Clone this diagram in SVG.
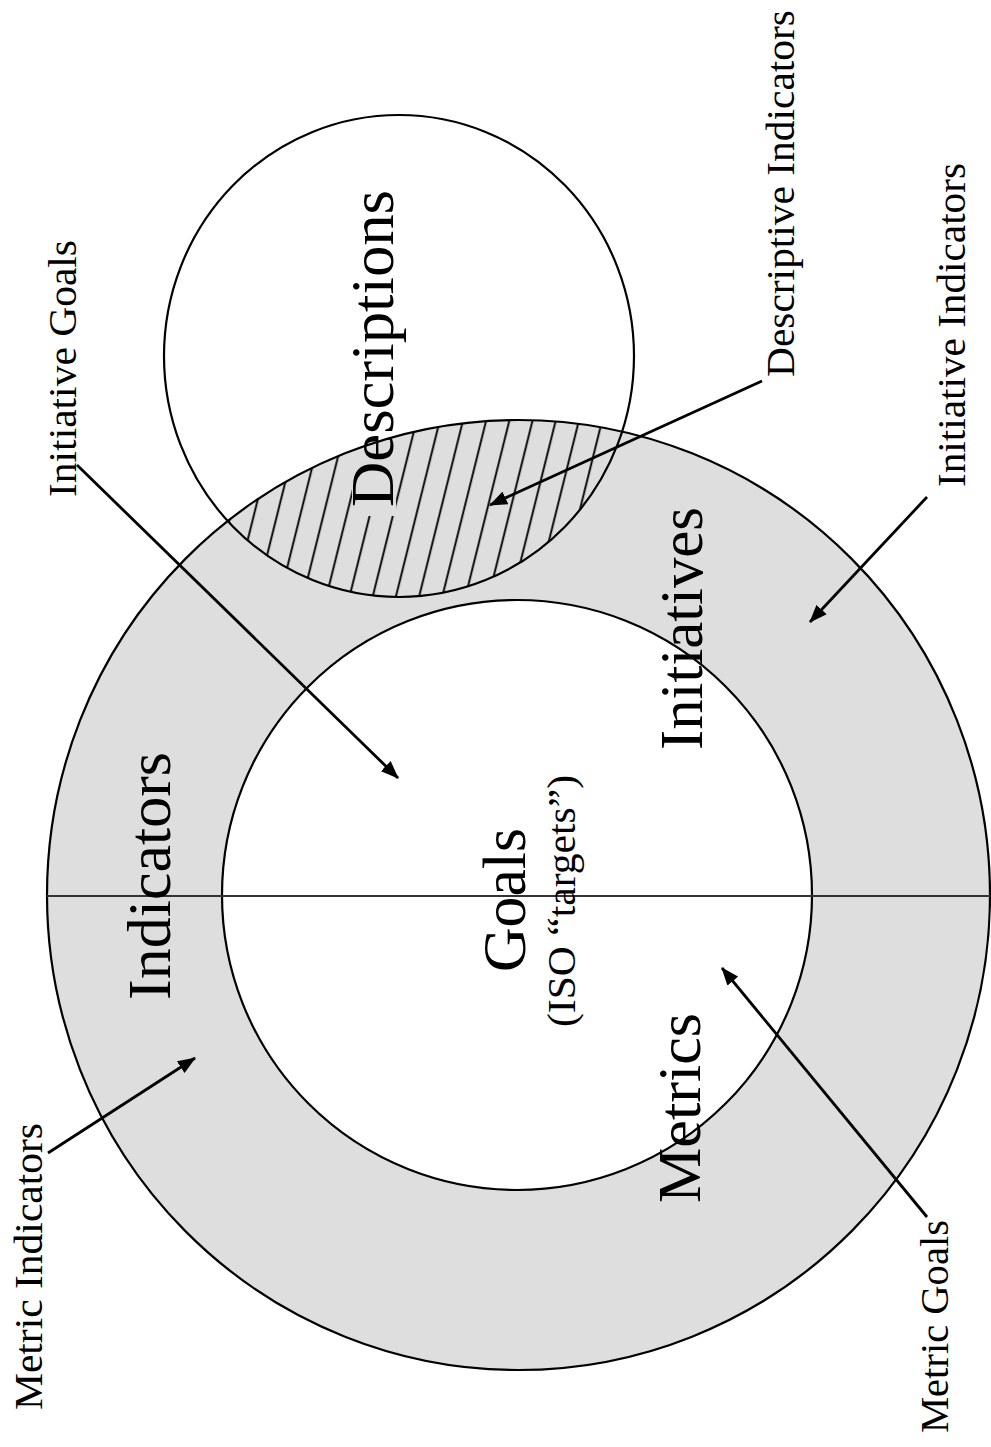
<svg xmlns="http://www.w3.org/2000/svg" width="991" height="1447" viewBox="0 0 991 1447">
<style>
.ring{fill:#dedede;stroke:#000;stroke-width:2.2}
.line{fill:none;stroke:#000;stroke-width:2.2}
.arrow{fill:none;stroke:#000;stroke-width:2.8;marker-end:url(#ah)}
.big{font-family:"Liberation Serif","Times New Roman",serif;font-size:62px;fill:#000}
.small{font-family:"Liberation Serif","Times New Roman",serif;font-size:41px;fill:#000}
</style>
<defs>
<marker id="ah" markerUnits="userSpaceOnUse" markerWidth="18" markerHeight="14" refX="17" refY="7" orient="auto">
<path d="M0,0 L18,7 L0,14 z" fill="#000"/>
</marker>
<pattern id="hatch" patternUnits="userSpaceOnUse" width="22.5" height="10" patternTransform="rotate(14)">
<line x1="11" y1="-1" x2="11" y2="11" stroke="#000" stroke-width="1.9"/>
</pattern>
<clipPath id="outerClip"><ellipse cx="518.5" cy="895" rx="471.5" ry="475"/></clipPath>
<clipPath id="descClip"><ellipse cx="399" cy="356" rx="235" ry="241"/></clipPath>
<mask id="textHole">
<rect x="0" y="0" width="991" height="1447" fill="#fff"/>
<rect x="352" y="440" width="44" height="76" fill="#000"/>
</mask>
</defs>
<rect width="991" height="1447" fill="#fff"/>
<g id="outer-ring">
<ellipse class="ring" cx="518.5" cy="895" rx="471.5" ry="475"/>
</g>
<g id="goals-circle">
<circle cx="517" cy="895" r="295" fill="#fff" stroke="#000" stroke-width="2.2"/>
</g>
<g id="descriptive-lens">
<g clip-path="url(#outerClip)">
<g clip-path="url(#descClip)">
<rect x="150" y="100" width="500" height="520" fill="url(#hatch)" mask="url(#textHole)"/>
</g>
</g>
</g>
<g id="descriptions-circle">
<ellipse class="line" cx="399" cy="356" rx="235" ry="241"/>
</g>
<g id="divider">
<line x1="47" y1="896" x2="990" y2="896" stroke="#333" stroke-width="2"/>
</g>
<g id="region-labels">
<text class="big" transform="translate(393,507) rotate(-90)" textLength="317" lengthAdjust="spacingAndGlyphs">Descriptions</text>
<text class="big" transform="translate(170,1000) rotate(-90)" textLength="248" lengthAdjust="spacingAndGlyphs">Indicators</text>
<text class="big" transform="translate(702,750) rotate(-90)" textLength="243" lengthAdjust="spacingAndGlyphs">Initiatives</text>
<text class="big" transform="translate(700,1203) rotate(-90)" textLength="190" lengthAdjust="spacingAndGlyphs">Metrics</text>
<text class="big" transform="translate(525,972) rotate(-90)" textLength="144" lengthAdjust="spacingAndGlyphs">Goals</text>
<text class="small" transform="translate(575,1027) rotate(-90)" textLength="252" lengthAdjust="spacingAndGlyphs">(ISO “targets”)</text>
</g>
<g id="callout-labels">
<text class="small" transform="translate(76,497) rotate(-90)" textLength="257" lengthAdjust="spacingAndGlyphs">Initiative Goals</text>
<text class="small" transform="translate(794,377) rotate(-90)" textLength="367" lengthAdjust="spacingAndGlyphs">Descriptive Indicators</text>
<text class="small" transform="translate(965,487) rotate(-90)" textLength="324" lengthAdjust="spacingAndGlyphs">Initiative Indicators</text>
<text class="small" transform="translate(42,1410) rotate(-90)" textLength="287" lengthAdjust="spacingAndGlyphs">Metric Indicators</text>
<text class="small" transform="translate(948,1433) rotate(-90)" textLength="213" lengthAdjust="spacingAndGlyphs">Metric Goals</text>
</g>
<g id="connectors">
<line class="arrow" x1="77" y1="465" x2="398" y2="778"/>
<line class="arrow" x1="762" y1="381" x2="490" y2="505"/>
<line class="arrow" x1="927" y1="497" x2="810" y2="622"/>
<line class="arrow" x1="48" y1="1153" x2="195" y2="1058"/>
<line class="arrow" x1="927" y1="1217" x2="722" y2="968"/>
</g>
</svg>
